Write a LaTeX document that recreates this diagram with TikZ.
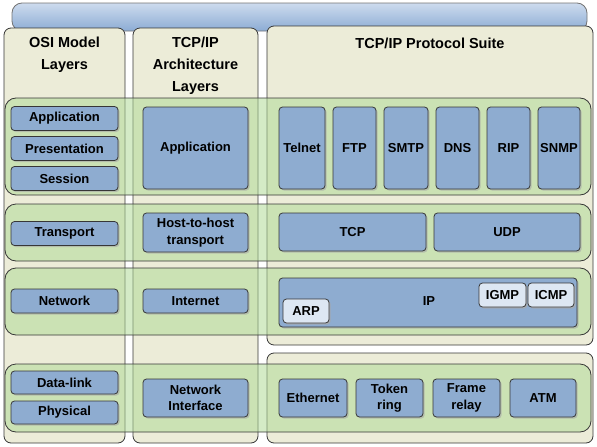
\documentclass[tikz,border=0pt]{standalone}
\usepackage{fontspec}
\setmainfont{Liberation Sans}
\usetikzlibrary{shadows}
\definecolor{cream}{RGB}{236,236,216}
\definecolor{bandg}{RGB}{176,218,152}
\definecolor{boxb}{RGB}{142,172,208}
\definecolor{lightb}{RGB}{221,231,243}
\definecolor{edgec}{RGB}{55,55,55}
\definecolor{bartop}{RGB}{205,219,238}
\definecolor{barbot}{RGB}{140,172,212}
\tikzset{
  col/.style={draw=edgec, line width=0.8pt, fill=cream, rounded corners=7pt},
  band/.style={draw=edgec, line width=0.8pt, fill=bandg, fill opacity=0.55, rounded corners=11pt},
  box/.style={draw=edgec, line width=0.8pt, fill=boxb, rounded corners=3.5pt, inner sep=0pt,
    align=center, font=\fontsize{13}{16.5}\selectfont\bfseries,
    drop shadow={shadow xshift=1.6pt, shadow yshift=-1.6pt, fill=black!35, opacity=0.6}},
  sbox/.style={box, fill=lightb, drop shadow={shadow xshift=1.2pt, shadow yshift=-1.2pt, fill=black!30, opacity=0.5}},
  head/.style={align=center, font=\fontsize{14.5}{22}\selectfont\bfseries, inner sep=0pt},
}
\begin{document}
\begin{tikzpicture}[x=1pt,y=-1pt]
\useasboundingbox (0,0) rectangle (597,447);
% top bar
\shade[top color=bartop, bottom color=barbot, draw=black!55, line width=0.8pt, rounded corners=10pt]
  (12,3) rectangle (587,31);
% columns
\draw[col] (4,28) rectangle (125,443);
\draw[col] (133,28) rectangle (258,443);
\draw[col] (267,26) rectangle (593,345);
\draw[col] (267,353) rectangle (593,443);
% headers
\node[head] (h1) at (64.5,55) {OSI Model\\Layers};
\node[head] (h2) at (195.5,66) {TCP/IP\\Architecture\\Layers};
\node[head] (h3) at (430,43) {TCP/IP Protocol Suite};
% bands
\draw[band] (5,98) rectangle (591,195);
\draw[band] (5,204) rectangle (591,261);
\draw[band] (5,268) rectangle (591,335);
\draw[band] (5,364) rectangle (591,432);
% OSI boxes
\node[box, minimum width=107pt, minimum height=24pt] (osiapp) at (64.5,118.5) {Application};
\node[box, minimum width=107pt, minimum height=24pt] (osipres) at (64.5,148.5) {Presentation};
\node[box, minimum width=107pt, minimum height=24pt] (osisess) at (64.5,178.5) {Session};
\node[box, minimum width=107pt, minimum height=24pt] (ositrans) at (64.5,233.5) {Transport};
\node[box, minimum width=107pt, minimum height=24pt] (osinet) at (64.5,301) {Network};
\node[box, minimum width=107pt, minimum height=23pt] (osidl) at (64.5,382.5) {Data-link};
\node[box, minimum width=107pt, minimum height=23pt] (osiphy) at (64.5,412.5) {Physical};
% TCP/IP architecture boxes
\node[box, minimum width=105pt, minimum height=82pt] (tapp) at (195.5,148) {Application};
\node[box, minimum width=105pt, minimum height=39pt] (thost) at (195.5,232.5) {Host-to-host\\transport};
\node[box, minimum width=105pt, minimum height=24pt] (tint) at (195.5,301) {Internet};
\node[box, minimum width=105pt, minimum height=38pt] (tnet) at (195.5,398) {Network\\Interface};
% suite: application
\node[box, minimum width=46pt, minimum height=82pt] (telnet) at (302,148) {Telnet};
\node[box, minimum width=43pt, minimum height=82pt] (ftp) at (354.5,148) {FTP};
\node[box, minimum width=44pt, minimum height=82pt] (smtp) at (406,148) {SMTP};
\node[box, minimum width=43pt, minimum height=82pt] (dns) at (457.5,148) {DNS};
\node[box, minimum width=43pt, minimum height=82pt] (rip) at (508.5,148) {RIP};
\node[box, minimum width=42pt, minimum height=82pt] (snmp) at (559,148) {SNMP};
% transport
\node[box, minimum width=147pt, minimum height=38pt] (tcp) at (352.5,232) {TCP};
\node[box, minimum width=146pt, minimum height=38pt] (udp) at (507,232) {UDP};
% internet
\node[box, minimum width=298pt, minimum height=49pt] (ip) at (428,302.5) {};
\node[font=\fontsize{13}{15}\selectfont\bfseries, inner sep=0pt] (iplbl) at (429,301) {IP};
\node[sbox, minimum width=46pt, minimum height=24pt] (arp) at (306,311) {ARP};
\node[sbox, minimum width=47pt, minimum height=24pt] (igmp) at (502.5,295) {IGMP};
\node[sbox, minimum width=46pt, minimum height=24pt] (icmp) at (551,295) {ICMP};
% network interface
\node[box, minimum width=68pt, minimum height=38pt] (eth) at (313,398) {Ethernet};
\node[box, minimum width=67pt, minimum height=38pt] (tok) at (389.5,398) {Token\\ring};
\node[box, minimum width=67pt, minimum height=38pt] (frame) at (466.5,398) {Frame\\relay};
\node[box, minimum width=66pt, minimum height=38pt] (atm) at (543,398) {ATM};
\end{tikzpicture}
\end{document}
